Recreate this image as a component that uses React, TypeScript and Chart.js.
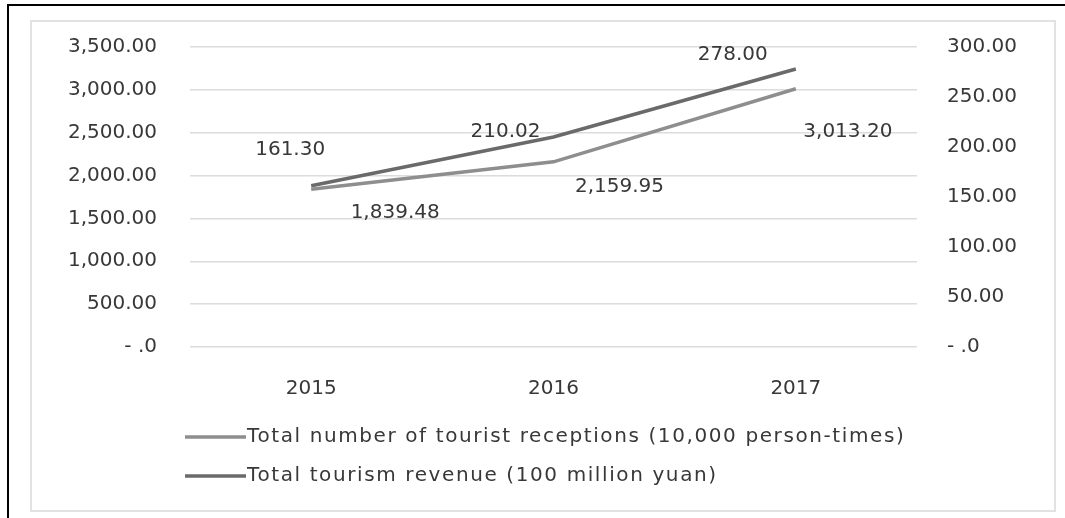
import React, { useEffect, useRef } from 'react';
import { Chart, registerables } from 'chart.js';

Chart.register(...registerables);

const years = ['2015', '2016', '2017'];
const receptions = [1839.48, 2159.95, 3013.2];
const revenue = [161.3, 210.02, 278.0];
const seriesNames = [
  'Total number of tourist receptions (10,000 person-times)',
  'Total tourism revenue (100 million yuan)',
];
const seriesColors = ['#8e8e8e', '#6a6a6a'];

const FONT = '"DejaVu Sans", sans-serif';
const TEXT = '#383838';

const fmt = (v: number) =>
  v === 0 ? '- .0' : v.toLocaleString('en-US', { minimumFractionDigits: 2, maximumFractionDigits: 2 });

// offsets of value labels from their points (px)
const labelOffsets: number[][][] = [
  [[84, 23], [66, 25], [52, 43]],
  [[-21, -36], [-48, -5], [-63, -14]],
];

const framePlugin = {
  id: 'frame',
  beforeDraw(chart: any) {
    const ctx = chart.ctx;
    ctx.save();
    ctx.fillStyle = '#ffffff';
    ctx.fillRect(0, 0, chart.width, chart.height);
    ctx.strokeStyle = '#e2e2e2';
    ctx.lineWidth = 2;
    ctx.strokeRect(31, 21, 1024, 490);
    ctx.strokeStyle = '#000000';
    ctx.lineWidth = 2;
    ctx.beginPath();
    ctx.moveTo(8, 518);
    ctx.lineTo(8, 5);
    ctx.lineTo(1065, 5);
    ctx.stroke();
    ctx.restore();
  },
};

const valueLabelPlugin = {
  id: 'valueLabels',
  afterDatasetsDraw(chart: any) {
    const ctx = chart.ctx;
    ctx.save();
    ctx.font = `20px ${FONT}`;
    ctx.fillStyle = TEXT;
    ctx.textAlign = 'center';
    ctx.textBaseline = 'middle';
    chart.data.datasets.forEach((ds: any, di: number) => {
      const meta = chart.getDatasetMeta(di);
      meta.data.forEach((pt: any, i: number) => {
        const off = labelOffsets[di][i];
        ctx.fillText(fmt(ds.data[i]), pt.x + off[0], pt.y + off[1]);
      });
    });
    ctx.restore();
  },
};

const legendPlugin = {
  id: 'customLegend',
  afterDraw(chart: any) {
    const ctx = chart.ctx;
    ctx.save();
    ctx.font = `20px ${FONT}`;
    ctx.textBaseline = 'middle';
    ctx.textAlign = 'left';
    chart.data.datasets.forEach((ds: any, di: number) => {
      const y = 437 + di * 39;
      ctx.strokeStyle = ds.borderColor;
      ctx.lineWidth = 3.5;
      ctx.beginPath();
      ctx.moveTo(185, y);
      ctx.lineTo(246, y);
      ctx.stroke();
      ctx.fillStyle = TEXT;
      (ctx as any).letterSpacing = '1.6px';
      ctx.fillText(ds.label, 247, y);
      (ctx as any).letterSpacing = '0px';
    });
    ctx.restore();
  },
};

export default function App() {
  const ref = useRef<HTMLCanvasElement>(null);
  useEffect(() => {
    if (!ref.current) return;
    const chart = new Chart(ref.current, {
      type: 'line',
      data: {
        labels: years,
        datasets: [
          {
            label: seriesNames[0],
            data: receptions,
            borderColor: seriesColors[0],
            backgroundColor: seriesColors[0],
            borderWidth: 3.5,
            pointRadius: 0,
            yAxisID: 'y',
          },
          {
            label: seriesNames[1],
            data: revenue,
            borderColor: seriesColors[1],
            backgroundColor: seriesColors[1],
            borderWidth: 3.5,
            pointRadius: 0,
            yAxisID: 'y1',
          },
        ],
      },
      options: {
        responsive: false,
        animation: false,
        layout: { padding: { left: 40, right: 38, top: 47, bottom: 121 } },
        plugins: { legend: { display: false }, tooltip: { enabled: false } },
        scales: {
          x: {
            offset: true,
            grid: { display: false },
            border: { display: false },
            ticks: { font: { family: FONT, size: 20 }, color: TEXT, padding: 22 },
            afterFit: (s: any) => { s.height = 50; },
          },
          y: {
            position: 'left',
            min: 0,
            max: 3500,
            ticks: { stepSize: 500, callback: (v: any) => fmt(Number(v)), font: { family: FONT, size: 20 }, color: TEXT, padding: 33 },
            grid: { color: '#dcdcdc', lineWidth: 1.5, drawTicks: false },
            border: { display: false },
            afterFit: (s: any) => { s.width = 150; },
          },
          y1: {
            position: 'right',
            min: 0,
            max: 300,
            ticks: { stepSize: 50, callback: (v: any) => fmt(Number(v)), font: { family: FONT, size: 20 }, color: TEXT, padding: 30 },
            grid: { drawOnChartArea: false, drawTicks: false },
            border: { display: false },
            afterFit: (s: any) => { s.width = 110; },
          },
        },
      },
      plugins: [framePlugin, valueLabelPlugin, legendPlugin],
    } as any);
    return () => chart.destroy();
  }, []);
  return (
    <div style={{ position: 'absolute', left: 0, top: 0, width: 1065, height: 518, background: '#fff' }}>
      <canvas ref={ref} width={1065} height={518} style={{ display: 'block' }} />
    </div>
  );
}
